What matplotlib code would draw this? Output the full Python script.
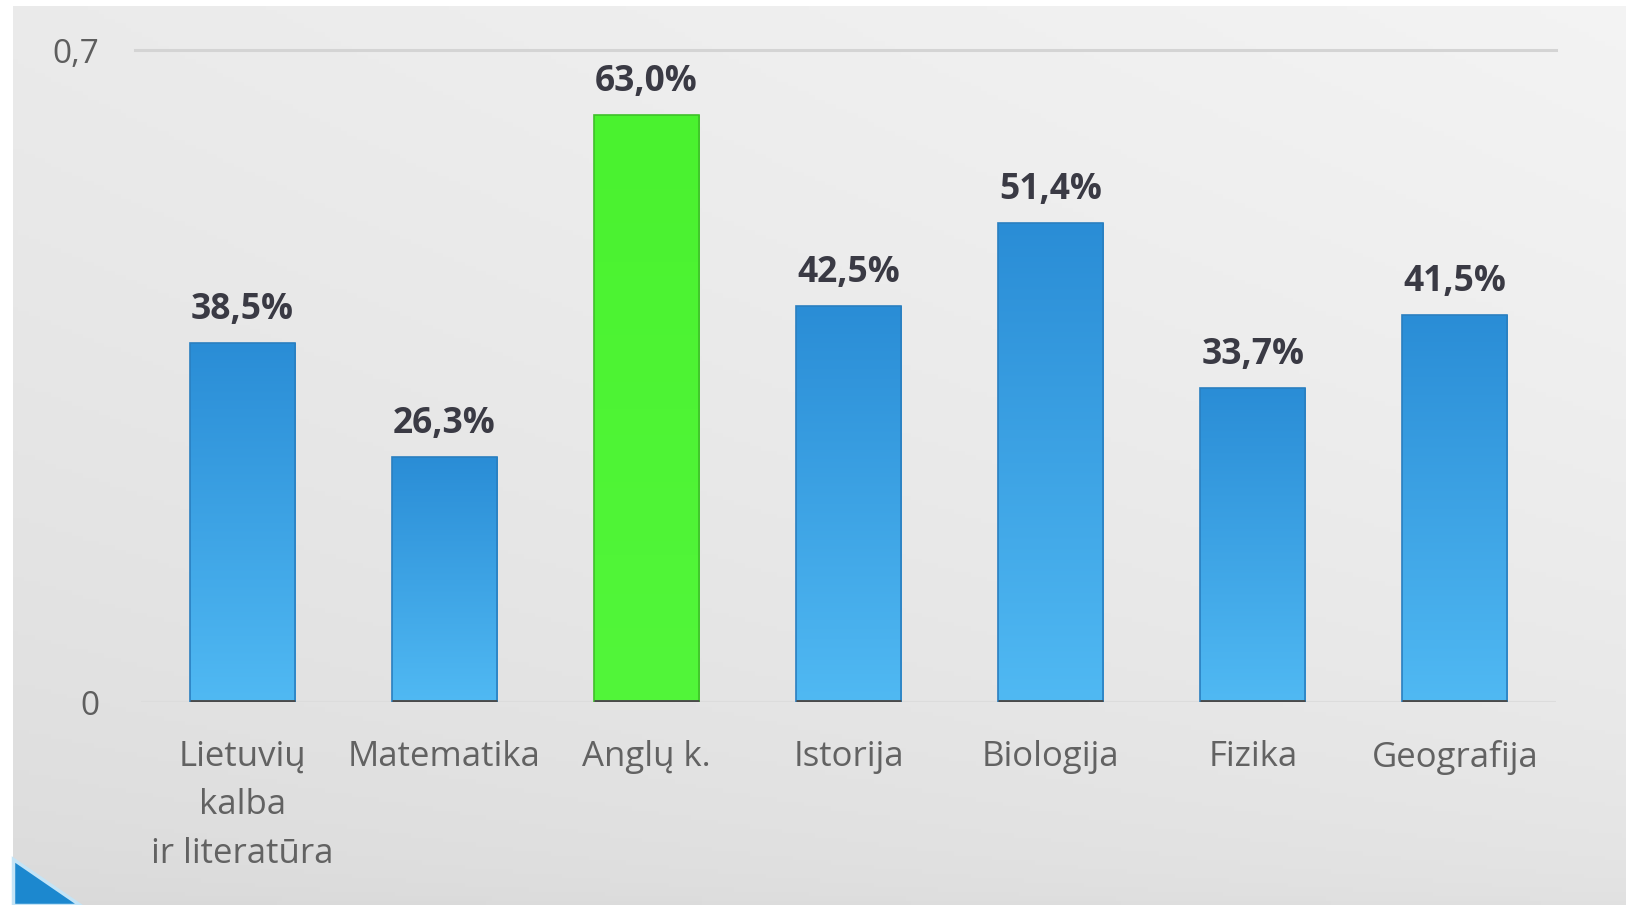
import numpy as np
import matplotlib
matplotlib.use("Agg")
import matplotlib.pyplot as plt
from matplotlib.colors import LinearSegmentedColormap
from matplotlib.patches import Polygon

categories = ["Lietuvių\nkalba\nir literatūra", "Matematika", "Anglų k.", "Istorija",
              "Biologija", "Fizika", "Geografija"]
values = [0.385, 0.263, 0.630, 0.425, 0.514, 0.337, 0.415]
value_labels = ["38,5%", "26,3%", "63,0%", "42,5%", "51,4%", "33,7%", "41,5%"]
highlight = "Anglų k."
ytick_vals = [0, 0.7]
ytick_labels = ["0", "0,7"]

W, H = 1626, 905
fig = plt.figure(figsize=(W / 100, H / 100), dpi=100, facecolor="white")

# background gradient panel
bg = fig.add_axes([13 / W, 0, 1 - 13 / W, 1 - 6 / H])
bg.set_axis_off()
xx, yy = np.meshgrid(np.linspace(0, 1, 300), np.linspace(0, 1, 200))  # yy=0 bottom
ys = yy ** 0.55
bl, br, tl, tr = 0.85, 0.88, 0.92, 0.955
v = bl * (1 - xx) * (1 - ys) + br * xx * (1 - ys) + tl * (1 - xx) * ys + tr * xx * ys
v = np.clip(v, 0, 1)
bg.imshow(np.dstack([v, v, v]), origin="lower", extent=[0, 1, 0, 1], aspect="auto")
bg.set_xlim(0, 1)
bg.set_ylim(0, 1)

# corner triangle
tri = Polygon([[13 / W, 46 / H], [13 / W, 0], [80 / W, 0]], closed=True,
              transform=fig.transFigure, facecolor="#1c88cf", edgecolor="#c4e4f6",
              linewidth=2.5, zorder=5)
fig.patches.append(tri)

ax = fig.add_axes([141 / W, 203 / H, 1415 / W, 652 / H])
ax.set_facecolor("none")
x = np.arange(len(categories))
width = 0.52
bars = ax.bar(x, values, width=width, color="none", zorder=3)

blue_cmap = LinearSegmentedColormap.from_list("b", ["#50b9f3", "#2a8dd6"])
green_cmap = LinearSegmentedColormap.from_list("g", ["#52f63a", "#4af22f"])
grad = np.linspace(0, 1, 256).reshape(-1, 1)
for b, cat in zip(bars, categories):
    x0, y0 = b.get_x(), b.get_y()
    w, h = b.get_width(), b.get_height()
    cmap = green_cmap if cat == highlight else blue_cmap
    im = ax.imshow(grad, cmap=cmap, origin="lower", aspect="auto",
                   extent=[x0, x0 + w, y0, y0 + h], zorder=3)
    im.set_clip_path(b)
    edge = "#3fc02a" if cat == highlight else "#2a7fc0"
    ax.bar(b.get_x() + w / 2, h, width=w, color="none", edgecolor=edge,
           linewidth=1.2, zorder=4)
    ax.plot([x0, x0 + w], [0, 0], color="#4a4a4a", lw=3.5, solid_capstyle="butt", zorder=5)

for xi, val, lab in zip(x, values, value_labels):
    ax.annotate(lab, (xi, val), xytext=(0, 11), textcoords="offset points",
                ha="center", va="bottom", fontsize=25.5, fontweight="bold",
                color="#3a3a44", family="Open Sans", zorder=6)

ax.axhline(0.7, color="#d4d4d4", lw=2.2, zorder=1, xmin=-0.004, clip_on=False)
ax.axhline(0, color="#dcdcdc", lw=1.5, zorder=1)

ax.set_xlim(-0.5, len(categories) - 0.5)
ax.set_ylim(0, 0.7)
ax.set_xticks(x)
ax.set_xticklabels(categories, fontsize=25, color="#626262", family="Open Sans",
                   linespacing=1.57)
ax.set_yticks(ytick_vals)
ax.set_yticklabels(ytick_labels, fontsize=24, color="#5e5e5e", family="Open Sans")
ax.tick_params(axis="x", length=0, pad=27)
ax.tick_params(axis="y", length=0, pad=30)
for s in ax.spines.values():
    s.set_visible(False)

fig.savefig("out.png", dpi=100, facecolor="white")
